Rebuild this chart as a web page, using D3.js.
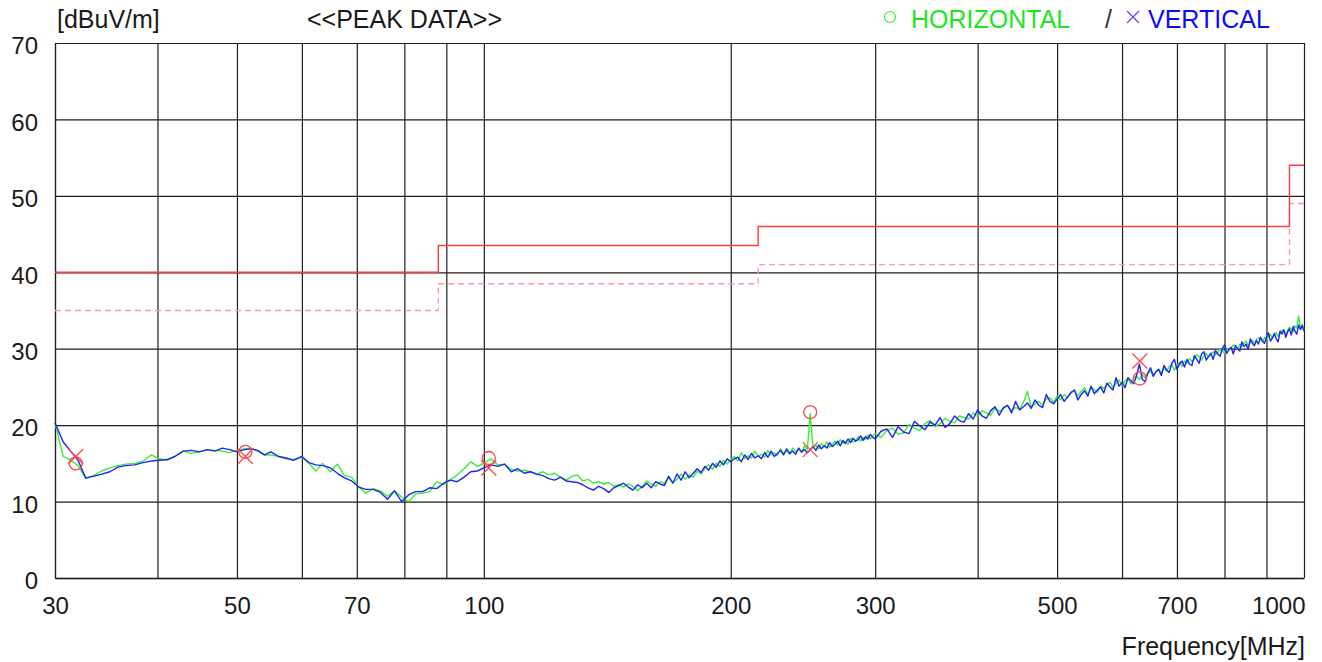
<!DOCTYPE html>
<html>
<head>
<meta charset="utf-8">
<script src="https://cdnjs.cloudflare.com/ajax/libs/d3/7.8.5/d3.min.js"></script>
<style>
body { margin: 0; background: #fff; }
svg text { font-family: "Liberation Sans", Arial, sans-serif; }
</style>
</head>
<body>
<div id="mainDiv"></div>
<script>
'use strict';

// sweep frequencies [MHz]
var freqLow = [30, 30.7, 31.4, 32, 32.7, 33.4, 34.2, 35, 35.8, 36.6,
    37.5, 38.4, 39.3, 40.2, 41.1, 42, 43, 44, 45, 46,
    47, 48, 49, 50, 51, 52, 53, 54, 55, 56.2,
    57.4, 58.6, 60, 61.2, 62.4, 63.6, 65, 66.3, 67.6, 69,
    70.4, 71.8, 73.3, 74.8, 76.3, 77.8, 79.4, 81, 82.6, 84.2,
    85.9, 87.6, 89.3, 91, 92.8, 94.6, 96.4, 98.2, 100];
var freqMid = [102, 104, 106, 108, 110, 112, 114, 116, 118, 120,
    122, 124, 126, 128, 130, 132, 134, 136, 138, 140,
    142, 144, 146, 148, 150, 152, 154, 156, 158, 160,
    162, 164, 166, 168, 170, 172, 174, 176, 178, 180,
    182, 184, 186, 188, 190, 192, 194, 196, 198, 200,
    202, 204, 206, 208, 210, 212, 214, 216, 218, 220,
    222, 224, 226, 228, 230, 232, 234, 236, 238, 240,
    242, 244, 246, 248, 250, 252, 254, 256, 258, 260,
    262, 264, 266, 268, 270, 272, 274, 276, 278, 280,
    282, 284, 286, 288, 290, 292, 294, 296, 298];
var freqHigh = [300, 305, 310, 315, 320, 325, 330, 335, 340, 345, 350, 355, 360, 365, 370, 375, 380, 385, 390, 395,
    400, 405, 410, 415, 420, 425, 430, 435, 440, 445, 450, 455, 460, 465, 470, 475, 480, 485, 490, 495,
    500, 505, 510, 515, 520, 525, 530, 535, 540, 545, 550, 555, 560, 565, 570, 575, 580, 585, 590, 595,
    600, 605, 610, 615, 620, 625, 630, 635, 640, 645, 650, 655, 660, 665, 670, 675, 680, 685, 690, 695,
    700, 705, 710, 715, 720, 725, 730, 735, 740, 745, 750, 755, 760, 765, 770, 775, 780, 785, 790, 795,
    800, 805, 810, 815, 820, 825, 830, 835, 840, 845, 850, 855, 860, 865, 870, 875, 880, 885, 890, 895,
    900, 905, 910, 915, 920, 925, 930, 935, 940, 945, 950, 955, 960, 965, 970, 975, 980, 985, 990, 995,
    1000];

// horizontal polarisation [dBuV/m]
var horLow = [20.3, 15.9, 15.4, 14.7, 13.0, 13.4, 14.0, 14.4, 14.7, 14.9,
    15.0, 15.3, 16.1, 15.6, 15.4, 15.9, 16.6, 16.3, 16.5, 16.8,
    16.7, 16.6, 16.4, 16.7, 16.9, 17.0, 16.6, 16.1, 16.1, 15.9,
    15.6, 15.5, 15.8, 15.0, 14.0, 15.0, 13.9, 14.9, 13.4, 13.2,
    11.9, 11.1, 11.7, 11.4, 10.7, 11.4, 10.6, 10.0, 11.0, 11.1,
    11.3, 12.6, 12.2, 12.8, 13.5, 14.3, 15.2, 14.6, 15.0];
var horMid = [15.6, 14.8, 14.9, 14.2, 14.0, 14.1, 13.9, 13.6, 13.9, 13.5,
    13.7, 13.2, 12.8, 13.3, 13.5, 12.7, 12.9, 12.4, 12.6, 12.3,
    12.5, 12.0, 12.2, 11.9, 12.3, 12.0, 11.4, 12.0, 12.7, 12.3,
    12.0, 12.6, 12.4, 13.1, 12.5, 12.9, 13.6, 12.9, 13.5, 13.2,
    14.0, 13.6, 14.4, 14.8, 14.2, 15.0, 14.6, 15.4, 14.9, 15.5,
    15.9, 15.3, 16.4, 15.6, 16.0, 15.7, 16.6, 15.9, 16.2, 15.8,
    16.7, 16.1, 16.4, 16.0, 16.9, 16.3, 16.6, 16.2, 17.0, 16.5,
    16.9, 16.4, 17.3, 16.8, 21.5, 17.0, 17.4, 16.9, 17.6, 17.2,
    17.8, 17.1, 17.5, 17.9, 17.4, 18.1, 17.6, 17.9, 17.5, 18.3,
    17.8, 18.0, 18.5, 17.9, 18.4, 18.1, 18.7, 18.2, 18.6];
var horHigh = [18.9, 18.4, 19.3, 19.6, 18.8, 19.0, 20.1, 19.6, 19.3, 20.2, 20.6, 19.8, 20.2, 20.9, 20.5, 20.3, 21.2, 21.0, 20.8, 21.6,
    21.1, 21.9, 21.6, 21.3, 22.2, 21.8, 22.1, 22.6, 21.9, 22.3, 22.1, 23.0, 24.4, 22.4, 22.8, 23.1, 22.6, 23.4, 23.6, 23.0,
    23.8, 23.3, 24.0, 23.6, 24.2, 24.5, 23.8, 24.4, 24.9, 24.0, 25.0, 24.6, 24.3, 25.1, 24.8, 25.3, 25.6, 24.9, 25.5, 25.9,
    25.1, 25.8, 26.1, 25.4, 26.2, 26.4, 26.0, 26.6, 26.2, 26.8, 27.1, 26.4, 27.0, 27.3, 26.8, 27.5, 27.1, 27.7, 27.9, 27.2,
    27.8, 28.2, 27.7, 28.4, 28.1, 28.7, 28.3, 28.6, 29.2, 29.0, 28.5, 29.1, 29.4, 28.9, 29.3, 29.6, 29.2, 29.5, 29.9, 29.8,
    29.4, 30.1, 29.8, 30.0, 30.5, 30.4, 29.9, 30.6, 30.3, 30.7, 31.0, 30.4, 30.8, 31.1, 30.6, 31.2, 31.4, 31.3, 30.9, 31.5,
    31.2, 31.6, 31.9, 31.3, 31.8, 32.1, 31.6, 32.1, 32.4, 32.3, 31.9, 32.4, 32.8, 32.6, 32.2, 33.0, 32.7, 34.3, 32.6, 33.2,
    32.6];

// vertical polarisation [dBuV/m]
var verLow = [20.3, 17.8, 16.5, 15.4, 13.1, 13.3, 13.6, 13.9, 14.5, 14.7,
    14.8, 15.1, 15.3, 15.4, 15.5, 15.9, 16.6, 16.7, 16.5, 16.8,
    16.6, 17.0, 16.8, 16.5, 16.8, 16.9, 16.7, 16.1, 16.5, 15.9,
    15.7, 15.4, 15.9, 15.1, 14.8, 14.7, 14.4, 13.7, 13.1, 12.7,
    11.9, 11.6, 11.6, 11.2, 10.3, 11.4, 10.0, 10.9, 11.3, 11.3,
    11.8, 11.7, 12.4, 12.8, 12.6, 13.2, 13.9, 14.0, 14.4];
var verMid = [14.8, 14.6, 14.9, 13.9, 14.3, 13.7, 13.9, 13.6, 13.4, 13.0,
    12.8, 13.2, 12.7, 12.6, 12.5, 12.2, 11.8, 11.5, 12.0, 11.7,
    11.2, 11.8, 12.1, 12.4, 11.9, 11.5, 12.2, 11.8, 12.4, 11.8,
    12.6, 12.3, 12.1, 13.3, 12.4, 13.6, 12.8, 13.9, 13.1, 13.7,
    14.3, 13.8, 14.6, 14.1, 15.0, 14.5, 15.3, 14.8, 15.6, 15.2,
    15.6, 15.8, 15.2, 16.1, 15.5, 16.3, 15.7, 16.0, 15.6, 16.4,
    15.8, 16.6, 15.9, 16.3, 16.7, 16.1, 16.9, 16.3, 16.6, 16.2,
    17.0, 16.5, 16.8, 16.4, 16.8, 17.2, 16.7, 17.4, 16.9, 17.3,
    17.0, 17.7, 17.2, 17.5, 17.9, 17.3, 18.0, 17.6, 18.2, 17.7,
    18.3, 17.9, 18.1, 18.6, 18.0, 18.5, 18.2, 18.8, 18.4];
var verHigh = [18.2, 19.2, 19.5, 18.4, 19.8, 19.1, 18.9, 20.5, 19.9, 19.4, 20.4, 20.0, 21.0, 19.7, 20.2, 21.2, 20.6, 20.4, 21.5, 20.8,
    22.0, 21.2, 20.9, 21.9, 22.4, 21.3, 22.3, 22.6, 21.6, 23.1, 22.0, 22.4, 22.9, 22.2, 23.3, 22.6, 22.3, 24.0, 23.1, 22.8,
    23.4, 24.0, 23.1, 23.7, 24.3, 24.6, 23.3, 24.0, 24.5, 23.8, 25.1, 24.1, 24.6, 25.0, 24.2, 25.5, 25.0, 24.6, 26.2, 25.1,
    25.6, 24.9, 26.2, 25.8, 25.4, 26.5, 28.0, 26.0, 25.7, 26.8, 27.5, 26.4, 27.0, 27.3, 26.5, 27.8, 27.2, 26.9, 28.1, 28.6,
    27.3, 28.0, 28.4, 27.6, 28.6, 28.0, 27.8, 29.1, 28.6, 28.1, 29.3, 29.6, 28.5, 29.0, 29.4, 28.6, 29.8, 29.3, 29.0, 30.0,
    30.5, 29.4, 29.9, 30.2, 29.3, 30.4, 30.0, 29.7, 30.9, 30.3, 30.6, 29.9, 31.3, 30.7, 30.4, 31.1, 30.6, 31.5, 31.0, 30.7,
    31.5, 32.1, 31.0, 31.4, 32.0, 31.3, 30.9, 32.3, 31.9, 32.5, 31.5, 32.2, 32.6, 31.8, 32.9, 32.3, 31.9, 33.1, 32.5, 33.0,
    32.3];

// limit line (solid) and margin line (dashed)
var limitFreqs = [30, 88, 216, 960, 1000];
var limitLevels = [40, 43.5, 46, 54, 54];
var marginLevels = [35, 38.5, 41, 49, 49];

// peak markers
var peakFreqs = [31.8, 51.2, 101.4, 250, 630.7];
var peakHor = [15.0, 16.5, 15.7, 21.7, 26.1];
var peakVer = [15.9, 15.9, 14.4, 16.8, 28.4];

// axis ticks
var xGridTicks = [30, 40, 50, 60, 70, 80, 90, 100, 200, 300, 400, 500, 600, 700, 800, 900, 1000];
var xLabelTicks = [30, 50, 70, 100, 200, 300, 500, 700, 1000];
var yTicks = [0, 10, 20, 30, 40, 50, 60, 70];

var myApp = {};

myApp.w = 1322;
myApp.h = 662;
myApp.plot = {left: 55, right: 1304, top: 43, bottom: 578};
myApp.svg = undefined;
myApp.x = undefined;
myApp.y = undefined;

myApp.appendSvg = function(div)
{
    myApp.svg = d3.select(div).append('svg')
        .attr('width', myApp.w)
        .attr('height', myApp.h)
        .style('display', 'block');
    myApp.svg.append('rect')
        .attr('width', myApp.w)
        .attr('height', myApp.h)
        .attr('fill', '#fff');
}

myApp.buildScales = function()
{
    var p = myApp.plot;
    myApp.x = d3.scaleLog().domain([30, 1000]).range([p.left, p.right]);
    myApp.y = d3.scaleLinear().domain([0, 70]).range([p.bottom, p.top]);
}

myApp.buildAxes = function()
{
    var p = myApp.plot;

    var xAxis = d3.axisBottom(myApp.x)
        .tickValues(xGridTicks)
        .tickSize(-(p.bottom - p.top))
        .tickSizeOuter(0)
        .tickPadding(19)
        .tickFormat(function(d){ return xLabelTicks.indexOf(d) >= 0 ? d : ''; });

    var gx = myApp.svg.append('g')
        .attr('transform', 'translate(0,' + p.bottom + ')')
        .call(xAxis);
    gx.selectAll('.tick line').attr('stroke', '#1e1e1e').attr('stroke-width', 1.2);
    gx.select('.domain').attr('stroke', '#6e6e6e').attr('stroke-width', 2);
    gx.selectAll('.tick text')
        .attr('font-size', 24)
        .attr('fill', '#1a1a1a')
        .attr('font-family', '"Liberation Sans", Arial, sans-serif');
    gx.selectAll('.tick text').filter(function(d){ return d === 1000; })
        .attr('text-anchor', 'end')
        .attr('x', 1);

    var yAxis = d3.axisLeft(myApp.y)
        .tickValues(yTicks)
        .tickSize(-(p.right - p.left))
        .tickSizeOuter(0)
        .tickPadding(17);

    var gy = myApp.svg.append('g')
        .attr('transform', 'translate(' + p.left + ',0)')
        .call(yAxis);
    gy.selectAll('.tick line').attr('stroke', '#1e1e1e').attr('stroke-width', 1.2);
    gy.select('.domain').attr('stroke', '#1e1e1e').attr('stroke-width', 1.2);
    gy.selectAll('.tick text')
        .attr('font-size', 24)
        .attr('dy', '0.45em')
        .attr('fill', '#1a1a1a')
        .attr('font-family', '"Liberation Sans", Arial, sans-serif');
}

myApp.buildLimits = function()
{
    var line = d3.line()
        .x(function(d){ return myApp.x(d[0]); })
        .y(function(d){ return myApp.y(d[1]); })
        .curve(d3.curveStepAfter);

    myApp.svg.append('path')
        .datum(d3.zip(limitFreqs, marginLevels))
        .attr('fill', 'none')
        .attr('stroke', '#ff9a9a')
        .attr('stroke-width', 1.3)
        .attr('stroke-dasharray', '6,4')
        .attr('d', line);

    myApp.svg.append('path')
        .datum(d3.zip(limitFreqs, limitLevels))
        .attr('fill', 'none')
        .attr('stroke', '#ff3c3c')
        .attr('stroke-width', 1.4)
        .attr('d', line);
}

myApp.buildTraces = function()
{
    var line = d3.line()
        .x(function(d){ return myApp.x(d[0]); })
        .y(function(d){ return myApp.y(d[1]); });

    var freqs = freqLow.concat(freqMid, freqHigh);
    var hor = horLow.concat(horMid, horHigh);
    var ver = verLow.concat(verMid, verHigh);

    myApp.svg.append('path')
        .datum(d3.zip(freqs, hor))
        .attr('fill', 'none')
        .attr('stroke', '#38ee38')
        .attr('stroke-width', 1.4)
        .attr('stroke-linejoin', 'round')
        .attr('d', line);

    myApp.svg.append('path')
        .datum(d3.zip(freqs, ver))
        .attr('fill', 'none')
        .attr('stroke', '#2222f4')
        .attr('stroke-width', 1.4)
        .attr('stroke-linejoin', 'round')
        .attr('d', line);
}

myApp.buildMarkers = function()
{
    var g = myApp.svg.append('g')
        .attr('fill', 'none')
        .attr('stroke', '#ff4a4a')
        .attr('stroke-width', 1.3);

    g.selectAll('circle')
        .data(d3.zip(peakFreqs, peakHor))
        .enter()
        .append('circle')
        .attr('cx', function(d){ return myApp.x(d[0]); })
        .attr('cy', function(d){ return myApp.y(d[1]); })
        .attr('r', 6.5);

    g.selectAll('path')
        .data(d3.zip(peakFreqs, peakVer))
        .enter()
        .append('path')
        .attr('d', function(d){
            var cx = myApp.x(d[0]), cy = myApp.y(d[1]), s = 7.5;
            return 'M' + (cx - s) + ',' + (cy - s) + 'L' + (cx + s) + ',' + (cy + s) +
                'M' + (cx - s) + ',' + (cy + s) + 'L' + (cx + s) + ',' + (cy - s);
        });
}

myApp.buildLabels = function()
{
    var svg = myApp.svg;
    var fs = 25;

    svg.append('text').attr('x', 57).attr('y', 28).attr('font-size', fs)
        .attr('fill', '#1a1a1a').text('[dBuV/m]');
    svg.append('text').attr('x', 307).attr('y', 28).attr('font-size', fs)
        .attr('fill', '#1a1a1a').text('<<PEAK DATA>>');

    // legend
    svg.append('circle').attr('cx', 890).attr('cy', 17).attr('r', 5.5)
        .attr('fill', 'none').attr('stroke', '#38ee38').attr('stroke-width', 1.2);
    svg.append('text').attr('x', 911).attr('y', 28).attr('font-size', fs)
        .attr('fill', '#1ee61e').text('HORIZONTAL');
    svg.append('text').attr('x', 1105).attr('y', 28).attr('font-size', fs)
        .attr('fill', '#333').text('/');
    svg.append('path')
        .attr('d', 'M1127,11L1139,23M1127,23L1139,11')
        .attr('stroke', '#5050ff').attr('stroke-width', 1.3);
    svg.append('text').attr('x', 1148).attr('y', 28).attr('font-size', fs)
        .attr('fill', '#0a0aff').text('VERTICAL');

    svg.append('text').attr('x', 1305).attr('y', 655).attr('font-size', 25)
        .attr('text-anchor', 'end').attr('fill', '#1a1a1a').text('Frequency[MHz]');
}

myApp.run = function()
{
    myApp.appendSvg('#mainDiv');
    myApp.buildScales();
    myApp.buildAxes();
    myApp.buildLimits();
    myApp.buildTraces();
    myApp.buildMarkers();
    myApp.buildLabels();
}

window.onload = myApp.run;
</script>
</body>
</html>
